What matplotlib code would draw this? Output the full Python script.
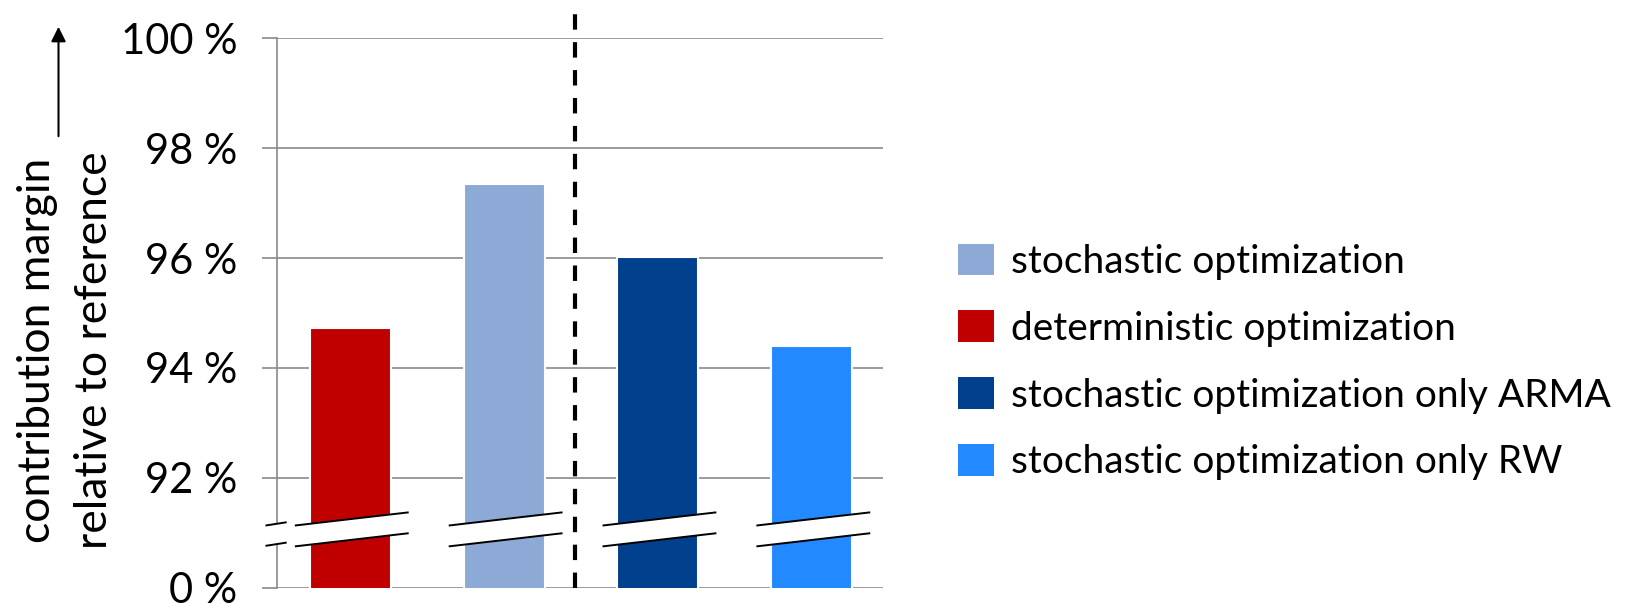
import matplotlib.pyplot as plt
from matplotlib.patches import Polygon, Patch

plt.rcParams['font.family'] = ['Lato', 'DejaVu Sans']

# bar values in percent of the reference contribution margin
categories = ['deterministic optimization', 'stochastic optimization',
              'stochastic optimization only ARMA', 'stochastic optimization only RW']
values = [94.72, 97.34, 96.02, 94.40]
colors = ['#C00000', '#8DA9D5', '#00408D', '#2389FF']
legend_order = [1, 0, 2, 3]

yticks = [90, 92, 94, 96, 98, 100]
ytick_labels = ['0 %', '92 %', '94 %', '96 %', '98 %', '100 %']

grid_color = '#8a8a8a'

fig = plt.figure(figsize=(16.25, 6.04), dpi=100)
ax = fig.add_axes([277 / 1625, 1 - 587.6 / 604, (883 - 277) / 1625, (587.6 - 38.3) / 604])

x = list(range(len(values)))
bars = ax.bar(x, values, width=0.526, color=colors, edgecolor='white', linewidth=1.5, zorder=2)

ax.set_xlim(-0.476, 3.463)
ax.set_ylim(90, 100)
ax.set_yticks(yticks)
ax.set_yticklabels(ytick_labels, fontsize=30)
ax.set_xticks([])
ax.tick_params(axis='y', length=10.5, width=1.2, color=grid_color, pad=18)
ax.yaxis.grid(True, color=grid_color, linewidth=1.2)
ax.set_axisbelow(True)
for side in ['top', 'right', 'bottom']:
    ax.spines[side].set_visible(False)
ax.spines['left'].set_color(grid_color)
ax.spines['left'].set_linewidth(1.2)

# separator between the two groups
ax.plot([1.461, 1.461], [90, 100.52], color='black', linewidth=3,
        dashes=(3.7, 3.0), clip_on=False, zorder=4)


def axis_break(x0, x1, y_lo, y_hi, rise):
    # white band with black slanted edges marking the broken y axis
    poly = Polygon([(x0, y_lo), (x1, y_lo + rise), (x1, y_hi + rise), (x0, y_hi)],
                   closed=True, facecolor='white', edgecolor='none', zorder=5, clip_on=False)
    ax.add_patch(poly)
    for y in (y_lo, y_hi):
        ax.plot([x0, x1], [y, y + rise], color='black', linewidth=1.4,
                clip_on=False, zorder=6, solid_capstyle='butt')


axis_break(-0.551, -0.413, 90.76, 91.13, 0.06)
for xi in x:
    axis_break(xi - 0.36, xi + 0.38, 90.75, 91.13, 0.24)

handles = [Patch(facecolor=colors[i], edgecolor='none') for i in legend_order]
labels = [categories[i] for i in legend_order]
fig.legend(handles, labels, loc='center left', bbox_to_anchor=(958 / 1625, 1 - 362 / 604),
           frameon=False, fontsize=28, handlelength=0.92, handleheight=0.87,
           handletextpad=0.45, labelspacing=0.79, borderaxespad=0, borderpad=0)

fig.text(66 / 1625, 1 - 350 / 604, 'contribution margin\nrelative to reference',
         rotation=90, ha='center', va='center', multialignment='center', fontsize=32,
         linespacing=1.5)
ax.annotate('', xy=(58.5 / 1625, 1 - 24 / 604), xytext=(58.5 / 1625, 1 - 139 / 604),
            xycoords='figure fraction', textcoords='figure fraction',
            arrowprops=dict(arrowstyle='-|>', color='black', linewidth=1.5, mutation_scale=22))

fig.savefig('out.png', dpi=100)
